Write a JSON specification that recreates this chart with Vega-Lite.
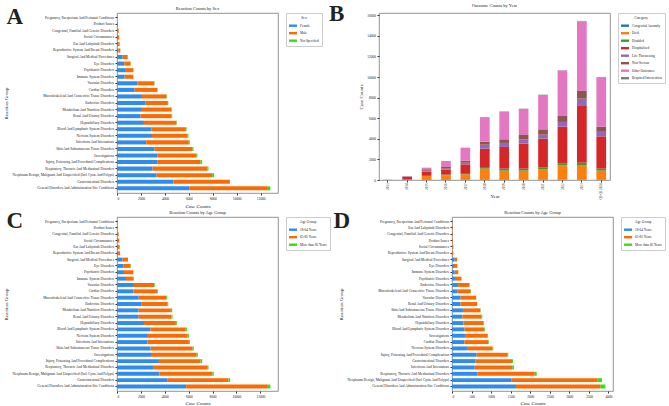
{
  "$schema": "https://vega.github.io/schema/vega-lite/v6.json",
  "background": "white",
  "padding": {"left": 3, "top": 2, "right": 0, "bottom": 0},
  "datasets": {
    "sex": [
      {"group": "Pregnancy, Puerperium And Perinatal Conditions", "Female": 10, "Male": 10, "Not Specified": 0},
      {"group": "Product Issues", "Female": 25, "Male": 35, "Not Specified": 0},
      {"group": "Congenital, Familial And Genetic Disorders", "Female": 60, "Male": 80, "Not Specified": 0},
      {"group": "Social Circumstances", "Female": 90, "Male": 100, "Not Specified": 0},
      {"group": "Ear And Labyrinth Disorders", "Female": 100, "Male": 120, "Not Specified": 0},
      {"group": "Reproductive System And Breast Disorders", "Female": 110, "Male": 170, "Not Specified": 0},
      {"group": "Surgical And Medical Procedures", "Female": 470, "Male": 420, "Not Specified": 5},
      {"group": "Eye Disorders", "Female": 610, "Male": 530, "Not Specified": 10},
      {"group": "Psychiatric Disorders", "Female": 670, "Male": 690, "Not Specified": 10},
      {"group": "Immune System Disorders", "Female": 640, "Male": 720, "Not Specified": 10},
      {"group": "Vascular Disorders", "Female": 1720, "Male": 1390, "Not Specified": 30},
      {"group": "Cardiac Disorders", "Female": 1470, "Male": 1890, "Not Specified": 30},
      {"group": "Musculoskeletal And Connective Tissue Disorders", "Female": 2080, "Male": 2060, "Not Specified": 50},
      {"group": "Endocrine Disorders", "Female": 2360, "Male": 1890, "Not Specified": 40},
      {"group": "Metabolism And Nutrition Disorders", "Female": 2080, "Male": 2450, "Not Specified": 50},
      {"group": "Renal And Urinary Disorders", "Female": 1970, "Male": 2590, "Not Specified": 50},
      {"group": "Hepatobiliary Disorders", "Female": 2250, "Male": 2690, "Not Specified": 60},
      {"group": "Blood And Lymphatic System Disorders", "Female": 2890, "Male": 2860, "Not Specified": 60},
      {"group": "Nervous System Disorders", "Female": 2920, "Male": 2970, "Not Specified": 80},
      {"group": "Infections And Infestations", "Female": 2440, "Male": 3560, "Not Specified": 80},
      {"group": "Skin And Subcutaneous Tissue Disorders", "Female": 3140, "Male": 3170, "Not Specified": 80},
      {"group": "Investigations", "Female": 3360, "Male": 3280, "Not Specified": 80},
      {"group": "Injury, Poisoning And Procedural Complications", "Female": 3360, "Male": 3610, "Not Specified": 140},
      {"group": "Respiratory, Thoracic And Mediastinal Disorders", "Female": 2970, "Male": 4590, "Not Specified": 80},
      {"group": "Neoplasms Benign, Malignant And Unspecified (Incl Cysts And Polyps)", "Female": 3310, "Male": 4640, "Not Specified": 160},
      {"group": "Gastrointestinal Disorders", "Female": 4720, "Male": 4640, "Not Specified": 80},
      {"group": "General Disorders And Administration Site Conditions", "Female": 6030, "Male": 6500, "Not Specified": 280}
    ],
    "outcomes": [
      {"year": "2013", "Congenital Anomaly": 0, "Died": 5, "Disabled": 0, "Hospitalized": 10, "Life Threatening": 0, "Non-Serious": 0, "Other Outcomes": 5, "Required Intervention": 0},
      {"year": "2014", "Congenital Anomaly": 0, "Died": 40, "Disabled": 10, "Hospitalized": 250, "Life Threatening": 20, "Non-Serious": 30, "Other Outcomes": 40, "Required Intervention": 0},
      {"year": "2015", "Congenital Anomaly": 5, "Died": 385, "Disabled": 90, "Hospitalized": 330, "Life Threatening": 90, "Non-Serious": 140, "Other Outcomes": 160, "Required Intervention": 0},
      {"year": "2016", "Congenital Anomaly": 5, "Died": 445, "Disabled": 70, "Hospitalized": 480, "Life Threatening": 100, "Non-Serious": 160, "Other Outcomes": 590, "Required Intervention": 0},
      {"year": "2017", "Congenital Anomaly": 10, "Died": 540, "Disabled": 130, "Hospitalized": 840, "Life Threatening": 160, "Non-Serious": 200, "Other Outcomes": 1260, "Required Intervention": 0},
      {"year": "2018", "Congenital Anomaly": 10, "Died": 1090, "Disabled": 160, "Hospitalized": 1780, "Life Threatening": 390, "Non-Serious": 290, "Other Outcomes": 2380, "Required Intervention": 20},
      {"year": "2019", "Congenital Anomaly": 10, "Died": 900, "Disabled": 190, "Hospitalized": 2110, "Life Threatening": 390, "Non-Serious": 350, "Other Outcomes": 2700, "Required Intervention": 20},
      {"year": "2020", "Congenital Anomaly": 10, "Died": 900, "Disabled": 190, "Hospitalized": 2430, "Life Threatening": 420, "Non-Serious": 420, "Other Outcomes": 2540, "Required Intervention": 20},
      {"year": "2021", "Congenital Anomaly": 10, "Died": 1030, "Disabled": 190, "Hospitalized": 2790, "Life Threatening": 380, "Non-Serious": 520, "Other Outcomes": 3350, "Required Intervention": 20},
      {"year": "2022", "Congenital Anomaly": 10, "Died": 1420, "Disabled": 190, "Hospitalized": 3560, "Life Threatening": 460, "Non-Serious": 580, "Other Outcomes": 4420, "Required Intervention": 20},
      {"year": "2023", "Congenital Anomaly": 10, "Died": 1450, "Disabled": 220, "Hospitalized": 5580, "Life Threatening": 640, "Non-Serious": 750, "Other Outcomes": 6760, "Required Intervention": 40},
      {"year": "Q1-Q3 2024", "Congenital Anomaly": 10, "Died": 900, "Disabled": 190, "Hospitalized": 3140, "Life Threatening": 520, "Non-Serious": 420, "Other Outcomes": 4810, "Required Intervention": 20}
    ],
    "age": [
      {"group": "Pregnancy, Puerperium And Perinatal Conditions", "18-64 Years": 10, "65-85 Years": 10, "More than 85 Years": 0},
      {"group": "Product Issues", "18-64 Years": 20, "65-85 Years": 40, "More than 85 Years": 0},
      {"group": "Congenital, Familial And Genetic Disorders", "18-64 Years": 50, "65-85 Years": 90, "More than 85 Years": 0},
      {"group": "Social Circumstances", "18-64 Years": 60, "65-85 Years": 130, "More than 85 Years": 0},
      {"group": "Ear And Labyrinth Disorders", "18-64 Years": 80, "65-85 Years": 140, "More than 85 Years": 0},
      {"group": "Reproductive System And Breast Disorders", "18-64 Years": 90, "65-85 Years": 170, "More than 85 Years": 0},
      {"group": "Surgical And Medical Procedures", "18-64 Years": 470, "65-85 Years": 450, "More than 85 Years": 5},
      {"group": "Eye Disorders", "18-64 Years": 560, "65-85 Years": 580, "More than 85 Years": 30},
      {"group": "Psychiatric Disorders", "18-64 Years": 580, "65-85 Years": 780, "More than 85 Years": 10},
      {"group": "Immune System Disorders", "18-64 Years": 750, "65-85 Years": 640, "More than 85 Years": 10},
      {"group": "Vascular Disorders", "18-64 Years": 1420, "65-85 Years": 1700, "More than 85 Years": 50},
      {"group": "Cardiac Disorders", "18-64 Years": 1360, "65-85 Years": 2010, "More than 85 Years": 60},
      {"group": "Musculoskeletal And Connective Tissue Disorders", "18-64 Years": 1810, "65-85 Years": 2310, "More than 85 Years": 90},
      {"group": "Endocrine Disorders", "18-64 Years": 2060, "65-85 Years": 2170, "More than 85 Years": 60},
      {"group": "Metabolism And Nutrition Disorders", "18-64 Years": 1810, "65-85 Years": 2700, "More than 85 Years": 110},
      {"group": "Renal And Urinary Disorders", "18-64 Years": 1810, "65-85 Years": 2760, "More than 85 Years": 80},
      {"group": "Hepatobiliary Disorders", "18-64 Years": 2260, "65-85 Years": 2670, "More than 85 Years": 80},
      {"group": "Blood And Lymphatic System Disorders", "18-64 Years": 2810, "65-85 Years": 2950, "More than 85 Years": 90},
      {"group": "Nervous System Disorders", "18-64 Years": 2510, "65-85 Years": 3370, "More than 85 Years": 140},
      {"group": "Infections And Infestations", "18-64 Years": 2560, "65-85 Years": 3460, "More than 85 Years": 80},
      {"group": "Skin And Subcutaneous Tissue Disorders", "18-64 Years": 2810, "65-85 Years": 3510, "More than 85 Years": 110},
      {"group": "Investigations", "18-64 Years": 2920, "65-85 Years": 3740, "More than 85 Years": 110},
      {"group": "Injury, Poisoning And Procedural Complications", "18-64 Years": 3510, "65-85 Years": 3480, "More than 85 Years": 140},
      {"group": "Respiratory, Thoracic And Mediastinal Disorders", "18-64 Years": 3010, "65-85 Years": 4540, "More than 85 Years": 110},
      {"group": "Neoplasms Benign, Malignant And Unspecified (Incl Cysts And Polyps)", "18-64 Years": 3560, "65-85 Years": 4430, "More than 85 Years": 110},
      {"group": "Gastrointestinal Disorders", "18-64 Years": 4200, "65-85 Years": 5130, "More than 85 Years": 140},
      {"group": "General Disorders And Administration Site Conditions", "18-64 Years": 5790, "65-85 Years": 6770, "More than 85 Years": 280}
    ],
    "age2": [
      {"group": "Pregnancy, Puerperium And Perinatal Conditions", "18-64 Years": 2, "65-85 Years": 3, "More than 85 Years": 0},
      {"group": "Ear And Labyrinth Disorders", "18-64 Years": 5, "65-85 Years": 10, "More than 85 Years": 0},
      {"group": "Congenital, Familial And Genetic Disorders", "18-64 Years": 7, "65-85 Years": 13, "More than 85 Years": 0},
      {"group": "Product Issues", "18-64 Years": 8, "65-85 Years": 17, "More than 85 Years": 0},
      {"group": "Social Circumstances", "18-64 Years": 10, "65-85 Years": 25, "More than 85 Years": 0},
      {"group": "Reproductive System And Breast Disorders", "18-64 Years": 8, "65-85 Years": 27, "More than 85 Years": 0},
      {"group": "Surgical And Medical Procedures", "18-64 Years": 70, "65-85 Years": 60, "More than 85 Years": 2},
      {"group": "Eye Disorders", "18-64 Years": 50, "65-85 Years": 85, "More than 85 Years": 2},
      {"group": "Immune System Disorders", "18-64 Years": 70, "65-85 Years": 90, "More than 85 Years": 2},
      {"group": "Psychiatric Disorders", "18-64 Years": 75, "65-85 Years": 165, "More than 85 Years": 3},
      {"group": "Endocrine Disorders", "18-64 Years": 155, "65-85 Years": 290, "More than 85 Years": 5},
      {"group": "Musculoskeletal And Connective Tissue Disorders", "18-64 Years": 145, "65-85 Years": 332, "More than 85 Years": 8},
      {"group": "Vascular Disorders", "18-64 Years": 220, "65-85 Years": 395, "More than 85 Years": 5},
      {"group": "Renal And Urinary Disorders", "18-64 Years": 215, "65-85 Years": 425, "More than 85 Years": 5},
      {"group": "Skin And Subcutaneous Tissue Disorders", "18-64 Years": 280, "65-85 Years": 445, "More than 85 Years": 10},
      {"group": "Metabolism And Nutrition Disorders", "18-64 Years": 265, "65-85 Years": 495, "More than 85 Years": 15},
      {"group": "Hepatobiliary Disorders", "18-64 Years": 290, "65-85 Years": 510, "More than 85 Years": 20},
      {"group": "Blood And Lymphatic System Disorders", "18-64 Years": 315, "65-85 Years": 510, "More than 85 Years": 20},
      {"group": "Investigations", "18-64 Years": 330, "65-85 Years": 570, "More than 85 Years": 20},
      {"group": "Cardiac Disorders", "18-64 Years": 315, "65-85 Years": 615, "More than 85 Years": 15},
      {"group": "Nervous System Disorders", "18-64 Years": 385, "65-85 Years": 655, "More than 85 Years": 15},
      {"group": "Injury, Poisoning And Procedural Complications", "18-64 Years": 630, "65-85 Years": 780, "More than 85 Years": 30},
      {"group": "Gastrointestinal Disorders", "18-64 Years": 605, "65-85 Years": 930, "More than 85 Years": 25},
      {"group": "Infections And Infestations", "18-64 Years": 580, "65-85 Years": 960, "More than 85 Years": 45},
      {"group": "Respiratory, Thoracic And Mediastinal Disorders", "18-64 Years": 655, "65-85 Years": 1460, "More than 85 Years": 50},
      {"group": "Neoplasms Benign, Malignant And Unspecified (Incl Cysts And Polyps)", "18-64 Years": 1525, "65-85 Years": 2200, "More than 85 Years": 110},
      {"group": "General Disorders And Administration Site Conditions", "18-64 Years": 1635, "65-85 Years": 2155, "More than 85 Years": 130}
    ]
  },
  "vconcat": [
    {
      "hconcat": [
        {
          "title": {"text": "A", "orient": "left", "angle": 0, "anchor": "end", "align": "left", "baseline": "top", "frame": "bounds", "fontSize": 23, "fontWeight": "bold", "offset": -20},
          "vconcat": [
            {
              "data": {"name": "sex"},
              "transform": [{"fold": ["Female", "Male", "Not Specified"], "as": ["Sex", "count"]}],
              "title": "Reaction Counts by Sex",
              "width": 161,
              "height": 180,
              "mark": {"type": "bar"},
              "encoding": {
                "y": {"field": "group", "type": "nominal", "sort": null, "title": "Reaction Group", "scale": {"paddingInner": 0.38, "paddingOuter": 0.4}},
                "x": {"field": "count", "type": "quantitative", "title": "Case Counts", "scale": {"domain": [0, 13450], "nice": false}, "axis": {"values": [0, 2000, 4000, 6000, 8000, 10000, 12000], "format": "d"}},
                "color": {"field": "Sex", "type": "nominal", "scale": {"domain": ["Female", "Male", "Not Specified"], "range": ["#2E8BF0", "#FF6A00", "#3CDC14"]}}
              }
            }
          ],
          "resolve": {"scale": {"color": "independent"}, "legend": {"color": "independent"}}
        },
        {
          "title": {"text": "B", "orient": "left", "angle": 0, "anchor": "end", "align": "left", "baseline": "top", "frame": "bounds", "fontSize": 23, "fontWeight": "bold", "offset": 14},
          "vconcat": [
            {
              "data": {"name": "outcomes"},
              "transform": [{"fold": ["Congenital Anomaly", "Died", "Disabled", "Hospitalized", "Life Threatening", "Non-Serious", "Other Outcomes", "Required Intervention"], "as": ["Category", "count"]}],
              "title": {"text": "Outcome Counts by Year", "offset": 5},
              "width": 231,
              "height": 167,
              "mark": {"type": "bar"},
              "encoding": {
                "x": {"field": "year", "type": "nominal", "sort": null, "title": "Year", "scale": {"paddingInner": 0.5, "paddingOuter": 0.2}, "axis": {"labelAngle": -90, "titleY": 13, "labelFontSize": 3.2, "labelPadding": 1}},
                "y": {"field": "count", "type": "quantitative", "title": "Case Counts", "scale": {"domain": [0, 16220], "nice": false}, "axis": {"values": [0, 2000, 4000, 6000, 8000, 10000, 12000, 14000, 16000], "format": "d"}},
                "color": {"field": "Category", "type": "nominal", "scale": {"domain": ["Congenital Anomaly", "Died", "Disabled", "Hospitalized", "Life Threatening", "Non-Serious", "Other Outcomes", "Required Intervention"], "range": ["#1f77b4", "#ff7f0e", "#2ca02c", "#d62728", "#9467bd", "#8c564b", "#e377c2", "#7f7f7f"]}},
                "order": {"field": "Category", "sort": "ascending"}
              }
            }
          ],
          "resolve": {"scale": {"color": "independent"}, "legend": {"color": "independent"}}
        }
      ],
      "spacing": 6,
      "resolve": {"scale": {"color": "independent"}, "legend": {"color": "independent"}}
    },
    {
      "hconcat": [
        {
          "title": {"text": "C", "orient": "left", "angle": 0, "anchor": "end", "align": "left", "baseline": "top", "frame": "bounds", "fontSize": 23, "fontWeight": "bold", "offset": -20},
          "vconcat": [
            {
              "data": {"name": "age"},
              "transform": [{"fold": ["18-64 Years", "65-85 Years", "More than 85 Years"], "as": ["Age Group", "count"]}],
              "title": "Reaction Counts by Age Group",
              "width": 161,
              "height": 174,
              "mark": {"type": "bar"},
              "encoding": {
                "y": {"field": "group", "type": "nominal", "sort": null, "title": "Reaction Group", "scale": {"paddingInner": 0.38, "paddingOuter": 0.4}},
                "x": {"field": "count", "type": "quantitative", "title": "Case Counts", "scale": {"domain": [0, 13480], "nice": false}, "axis": {"values": [0, 2000, 4000, 6000, 8000, 10000, 12000], "format": "d", "titlePadding": 2}},
                "color": {"field": "Age Group", "type": "nominal", "scale": {"domain": ["18-64 Years", "65-85 Years", "More than 85 Years"], "range": ["#2E8BF0", "#FF6A00", "#3CDC14"]}}
              }
            }
          ],
          "resolve": {"scale": {"color": "independent"}, "legend": {"color": "independent"}}
        },
        {
          "title": {"text": "D", "orient": "left", "angle": 0, "anchor": "end", "align": "left", "baseline": "top", "frame": "bounds", "fontSize": 23, "fontWeight": "bold", "offset": -12},
          "vconcat": [
            {
              "data": {"name": "age2"},
              "transform": [{"fold": ["18-64 Years", "65-85 Years", "More than 85 Years"], "as": ["Age Group", "count"]}],
              "title": "Reaction Counts by Age Group",
              "width": 161,
              "height": 174,
              "mark": {"type": "bar"},
              "encoding": {
                "y": {"field": "group", "type": "nominal", "sort": null, "title": "Reaction Group", "scale": {"paddingInner": 0.38, "paddingOuter": 0.4}},
                "x": {"field": "count", "type": "quantitative", "title": "Case Counts", "scale": {"domain": [0, 4116], "nice": false}, "axis": {"values": [0, 500, 1000, 1500, 2000, 2500, 3000, 3500, 4000], "format": "d", "titlePadding": 2}},
                "color": {"field": "Age Group", "type": "nominal", "scale": {"domain": ["18-64 Years", "65-85 Years", "More than 85 Years"], "range": ["#2E8BF0", "#FF6A00", "#3CDC14"]}}
              }
            }
          ],
          "resolve": {"scale": {"color": "independent"}, "legend": {"color": "independent"}}
        }
      ],
      "spacing": 2,
      "resolve": {"scale": {"color": "independent"}, "legend": {"color": "independent"}}
    }
  ],
  "spacing": 0,
  "resolve": {"scale": {"color": "independent"}, "legend": {"color": "independent"}},
  "config": {
    "font": "Liberation Serif",
    "view": {"stroke": "#777", "strokeWidth": 0.8},
    "axis": {"labelFontSize": 3.5, "titleFontSize": 5, "titleFontWeight": "normal", "tickSize": 2, "tickColor": "#333", "domain": false, "grid": false, "labelColor": "#222", "titleColor": "#222", "labelPadding": 1.5, "titlePadding": 3, "labelLimit": 0},
    "title": {"fontSize": 4.5, "fontWeight": "normal", "offset": 2, "color": "#222"},
    "legend": {"labelFontSize": 3.4, "titleFontSize": 3.7, "titleFontWeight": "normal", "symbolType": "M-1,-0.3H1V0.3H-1Z", "symbolSize": 64, "strokeColor": "#ccc", "padding": 3, "titleAnchor": "middle", "rowPadding": 1.5, "offset": 8, "symbolStrokeWidth": 0, "titlePadding": 2, "labelOffset": 3, "labelColor": "#222", "titleColor": "#222"}
  }
}
